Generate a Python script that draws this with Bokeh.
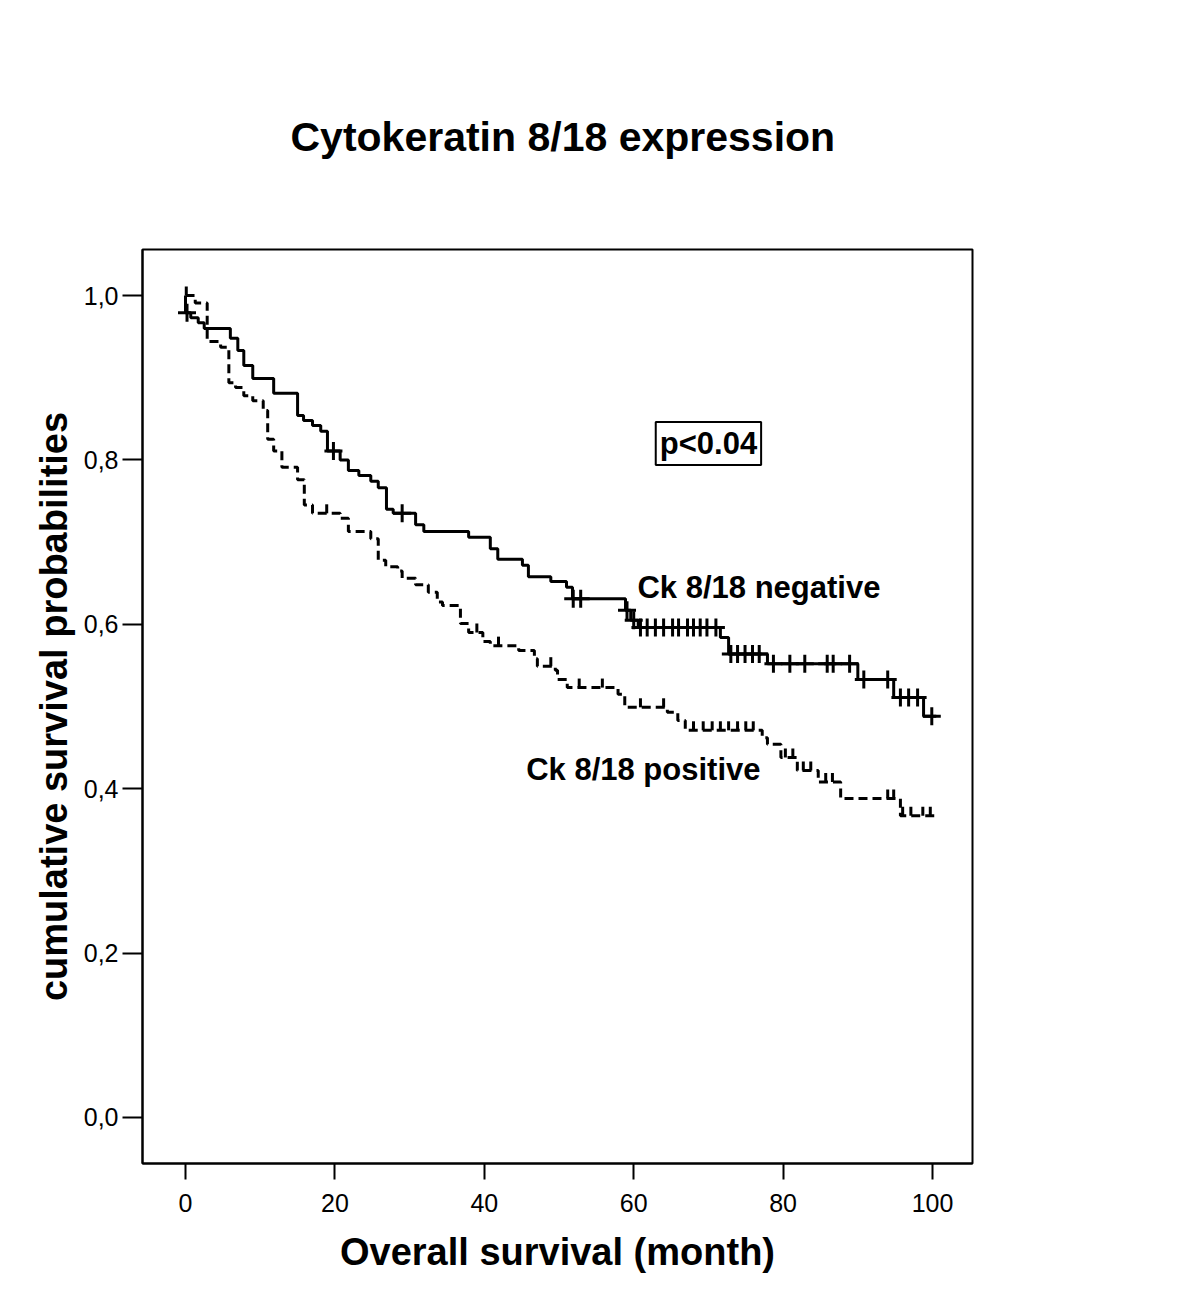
import numpy as np
from bokeh.plotting import figure
from bokeh.models import Range1d, FixedTicker, Label
from bokeh.embed import file_html
from bokeh.resources import INLINE

# ---- data ----
neg_event_t = [0.0, 0.7, 1.7, 2.5, 6.0, 7.0, 7.8, 9.0, 11.8, 15.0, 15.8, 17.0, 18.1, 19.0,
               20.7, 21.8, 23.2, 24.8, 25.8, 26.9, 27.8, 30.8, 31.9, 37.9, 40.8, 41.8, 45.1,
               45.9, 48.9, 51.0, 51.8, 58.9, 59.6, 60.6, 71.6, 72.7, 77.9, 90.0, 94.8, 98.8]
neg_event_s = [0.979, 0.973, 0.967, 0.960, 0.948, 0.933, 0.915, 0.899, 0.881, 0.854, 0.848,
               0.842, 0.835, 0.811, 0.800, 0.787, 0.781, 0.774, 0.766, 0.740, 0.735, 0.721,
               0.713, 0.706, 0.692, 0.679, 0.672, 0.658, 0.652, 0.645, 0.631, 0.617, 0.605,
               0.596, 0.584, 0.564, 0.552, 0.533, 0.511, 0.488]
neg_censor_t = [0.2, 19.8, 29.0, 51.9, 52.9, 59.1, 60.0, 60.9, 61.8, 62.9, 64.0, 65.2, 66.0,
                67.2, 68.0, 68.9, 69.8, 71.0, 73.0, 73.9, 74.9, 75.9, 76.8, 78.7, 80.9, 82.9,
                85.9, 86.7, 88.9, 90.8, 94.0, 95.7, 96.8, 98.0, 99.9]
neg_end_t = 100.5

pos_event_t = [1.3, 2.9, 4.7, 5.8, 6.7, 7.8, 9.0, 10.4, 11.0, 11.8, 12.9, 15.0, 15.9, 17.0,
               20.7, 21.8, 24.8, 25.8, 26.8, 28.4, 29.0, 30.8, 32.5, 33.7, 34.4, 36.8, 37.9,
               39.8, 40.8, 44.6, 46.7, 47.1, 49.5, 49.8, 51.1, 57.9, 58.8, 64.5, 65.9, 66.9,
               77.2, 77.9, 79.7, 81.9, 84.7, 87.7, 95.7]
pos_event_s = [0.991, 0.944, 0.937, 0.894, 0.888, 0.878, 0.872, 0.860, 0.825, 0.811, 0.791,
               0.776, 0.745, 0.735, 0.729, 0.713, 0.704, 0.678, 0.670, 0.665, 0.656, 0.648,
               0.639, 0.627, 0.623, 0.601, 0.590, 0.579, 0.574, 0.568, 0.558, 0.549, 0.544,
               0.533, 0.523, 0.515, 0.499, 0.493, 0.483, 0.471, 0.462, 0.454, 0.438, 0.422,
               0.408, 0.388, 0.367]
pos_censor_t = [0.1, 18.9, 39.0, 41.9, 48.9, 52.7, 55.8, 60.9, 64.0, 68.0, 69.3, 70.5, 71.6,
                72.7, 73.9, 75.0, 76.0, 80.3, 81.3, 82.7, 83.7, 85.7, 86.6, 94.0, 94.8, 96.0,
                97.1, 98.7, 99.7]
pos_end_t = 100.7

x_ticks = [0, 20, 40, 60, 80, 100]
y_ticks = [0.0, 0.2, 0.4, 0.6, 0.8, 1.0]
y_tick_labels = ["0,0", "0,2", "0,4", "0,6", "0,8", "1,0"]

title_text = "Cytokeratin 8/18 expression"
x_label = "Overall survival (month)"
y_label = "cumulative survival probabilities"
p_text = "p<0.04"
neg_label = "Ck 8/18 negative"
pos_label = "Ck 8/18 positive"


def step_xy(times, survs, end_t):
    xs, ys = [0.0], [1.0]
    prev = 1.0
    for t, s in zip(times, survs):
        xs += [t, t]
        ys += [prev, s]
        prev = s
    xs.append(end_t)
    ys.append(prev)
    return xs, ys


def surv_at(tc, times, survs):
    times = np.asarray(times)
    survs = np.asarray(survs)
    idx = np.searchsorted(times, tc, side="right") - 1
    return np.where(idx >= 0, survs[np.clip(idx, 0, None)], 1.0)


FONT = "Liberation Sans"

p = figure(width=1190, height=1300, output_backend="svg", toolbar_location=None,
           x_range=Range1d(-5.76, 105.35), y_range=Range1d(-0.056, 1.056),
           min_border_left=142, min_border_right=218, min_border_top=249,
           min_border_bottom=137)
p.background_fill_color = "white"
p.border_fill_color = "white"
p.outline_line_color = "black"
p.outline_line_width = 2
p.xgrid.visible = False
p.ygrid.visible = False

p.title.text = title_text
p.title.text_font = FONT
p.title.text_font_size = "41px"
p.title.text_font_style = "bold"
p.title.text_color = "black"
p.title.align = "left"
p.title.offset = 148
p.title.standoff = 180

for ax in (p.xaxis[0], p.yaxis[0]):
    ax.axis_line_width = 2
    ax.axis_line_color = "black"
    ax.major_tick_line_width = 2
    ax.major_tick_line_color = "black"
    ax.major_tick_in = 0
    ax.minor_tick_line_color = None
    ax.major_label_text_font = FONT
    ax.major_label_text_font_size = "25px"
    ax.major_label_text_color = "black"
    ax.axis_label_text_font = FONT
    ax.axis_label_text_font_style = "bold"
    ax.axis_label_text_color = "black"

p.xaxis[0].ticker = FixedTicker(ticks=x_ticks)
p.xaxis[0].major_tick_out = 16
p.xaxis[0].major_label_standoff = 14
p.xaxis[0].axis_label = x_label
p.xaxis[0].axis_label_text_font_size = "38px"
p.xaxis[0].axis_label_standoff = 16

p.yaxis[0].ticker = FixedTicker(ticks=y_ticks)
p.yaxis[0].major_label_overrides = {t: l for t, l in zip(y_ticks, y_tick_labels)}
p.yaxis[0].major_tick_out = 20
p.yaxis[0].major_label_standoff = 4
p.yaxis[0].major_label_orientation = "horizontal"
p.yaxis[0].axis_label = y_label
p.yaxis[0].axis_label_text_font_size = "38px"
p.yaxis[0].axis_label_standoff = 6

# negative (solid)
nx, ny = step_xy(neg_event_t, neg_event_s, neg_end_t)
p.line(nx, ny, line_color="black", line_width=3)
ncs = surv_at(neg_censor_t, neg_event_t, neg_event_s)
p.scatter(neg_censor_t, ncs, marker="cross", size=18, line_color="black", line_width=3)

# positive (dashed)
px_, py_ = step_xy(pos_event_t, pos_event_s, pos_end_t)
p.line(px_, py_, line_color="black", line_width=3, line_dash="9 5")
pcs = surv_at(pos_censor_t, pos_event_t, pos_event_s)
p.segment(x0=pos_censor_t, y0=pcs, x1=pos_censor_t, y1=pcs + 0.011,
          line_color="black", line_width=3)

# annotations
p.add_layout(Label(x=70.0, y=0.82, text=p_text, text_font=FONT, text_font_size="31px",
                   text_font_style="bold", text_align="center", text_baseline="middle",
                   text_color="black",
                   border_line_color="black", border_line_width=2,
                   background_fill_color="white", padding=4))
p.add_layout(Label(x=60.5, y=0.645, text=neg_label, text_font=FONT, text_font_size="31px",
                   text_font_style="bold", text_align="left", text_baseline="middle",
                   text_color="black"))
p.add_layout(Label(x=45.6, y=0.423, text=pos_label, text_font=FONT, text_font_size="31px",
                   text_font_style="bold", text_align="left", text_baseline="middle",
                   text_color="black"))

open("out.html", "w").write(file_html(p, INLINE))
